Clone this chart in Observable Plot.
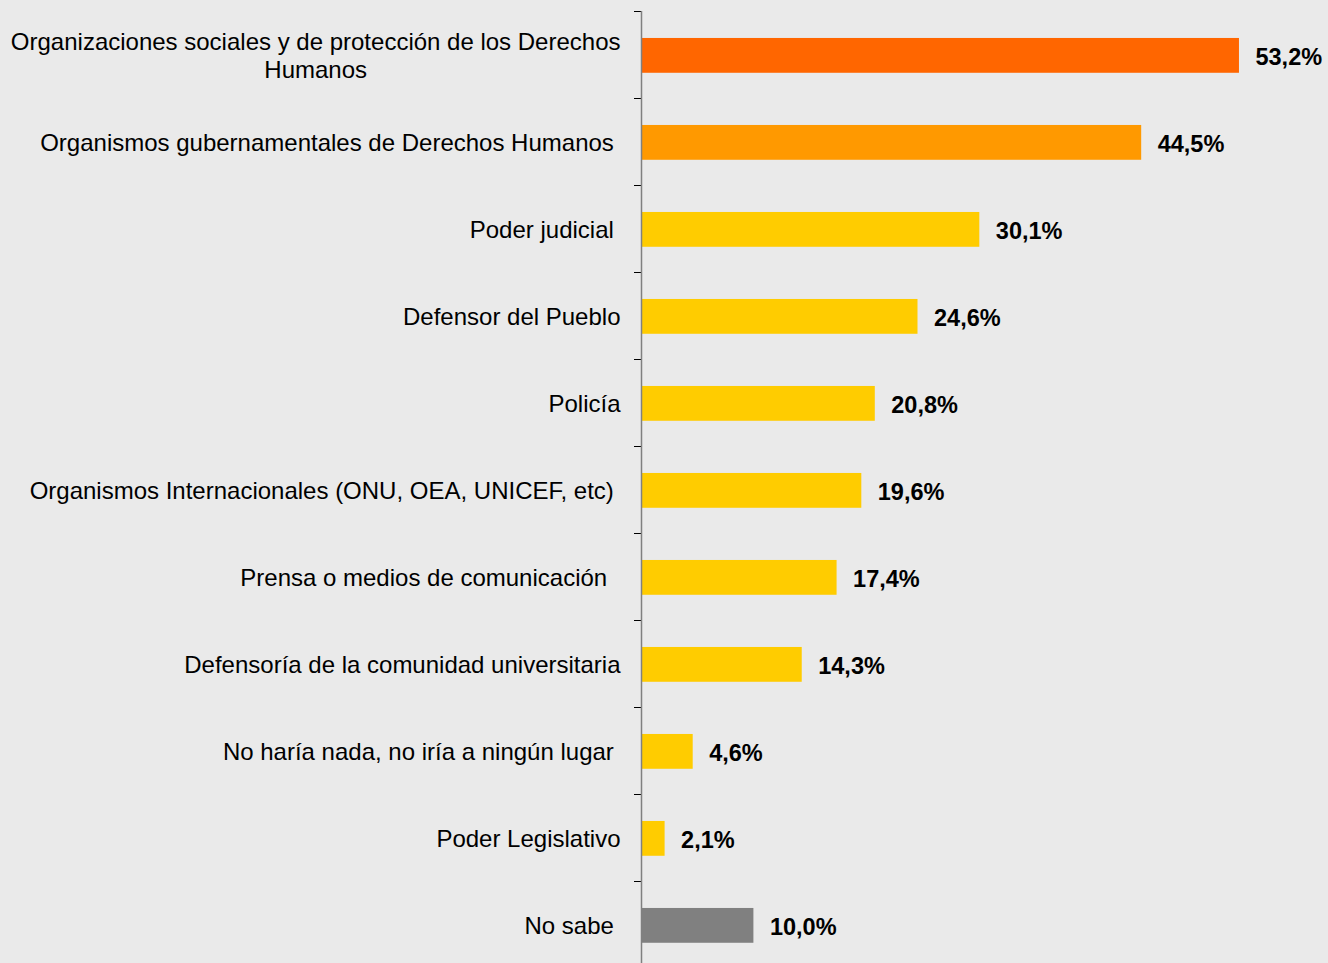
<!DOCTYPE html>
<html>
<head>
<meta charset="utf-8">
<script src="https://cdn.jsdelivr.net/npm/d3@7"></script>
<script src="https://cdn.jsdelivr.net/npm/@observablehq/plot@0.6"></script>
<style>
  html, body { margin: 0; padding: 0; background: #eaeaea; }
  #chart { width: 1328px; height: 963px; overflow: hidden; }
  #chart text { white-space: pre; }
</style>
</head>
<body>
<div id="chart"></div>
<script>
const categories = [
  "Organizaciones sociales y de protección de los Derechos\nHumanos",
  "Organismos gubernamentales de Derechos Humanos ",
  "Poder judicial ",
  "Defensor del Pueblo",
  "Policía",
  "Organismos Internacionales (ONU, OEA, UNICEF, etc) ",
  "Prensa o medios de comunicación  ",
  "Defensoría de la comunidad universitaria",
  "No haría nada, no iría a ningún lugar ",
  "Poder Legislativo",
  "No sabe "
];
const values = [53.2, 44.5, 30.1, 24.6, 20.8, 19.6, 17.4, 14.3, 4.6, 2.1, 10.0];

const data = categories.map((c, i) => ({category: c, value: values[i], pos: i + 0.5, idx: i}));
const barColor = d => d.idx === 0 ? "#ff6600" : d.idx === 1 ? "#ff9900" : d.idx === categories.length - 1 ? "#808080" : "#ffcc00";
const fmt = v => v.toFixed(1).replace(".", ",") + "%";

const chart = Plot.plot({
  width: 1328,
  height: 963,
  marginTop: 11,
  marginBottom: 0,
  marginLeft: 641,
  marginRight: 0,
  style: {background: "#eaeaea", fontFamily: "'Liberation Sans', Arial, sans-serif", fontSize: "24px", color: "#000"},
  x: {domain: [0, 60], range: [641, 641 + 60 * 11.24], axis: null},
  y: {domain: [0, 11], range: [11, 968], axis: null},
  marks: [
    Plot.rectX(data, {x1: 0, x2: "value", y1: d => d.pos - 0.19, y2: d => d.pos + 0.21, fill: barColor}),
    Plot.axisY(d3.range(0, 11), {tickSize: 7, tickFormat: () => "", label: null, stroke: "#000", strokeWidth: 1}),
    Plot.ruleX([0], {stroke: "#808080", strokeWidth: 1.5}),
    Plot.text(data, {x: 0, y: "pos", text: "category", textAnchor: "end", dx: -21, fontSize: 24, lineHeight: 1.17, fill: "#000"}),
    Plot.text(data, {x: "value", y: "pos", text: d => fmt(d.value), textAnchor: "start", dx: 16, dy: 2, fontSize: 23.5, fontWeight: "bold", fill: "#000"})
  ]
});
document.getElementById("chart").appendChild(chart);

// center multi-line category labels as a block, keeping the right edge
chart.querySelectorAll("text").forEach(t => {
  const spans = t.querySelectorAll("tspan");
  if (spans.length > 1 && t.getAttribute("text-anchor") !== "start") {
    const b = t.getBBox();
    const x0 = b.x + b.width;
    t.setAttribute("text-anchor", "middle");
    spans.forEach(s => s.setAttribute("x", x0 - b.width / 2));
  }
});
</script>
</body>
</html>
